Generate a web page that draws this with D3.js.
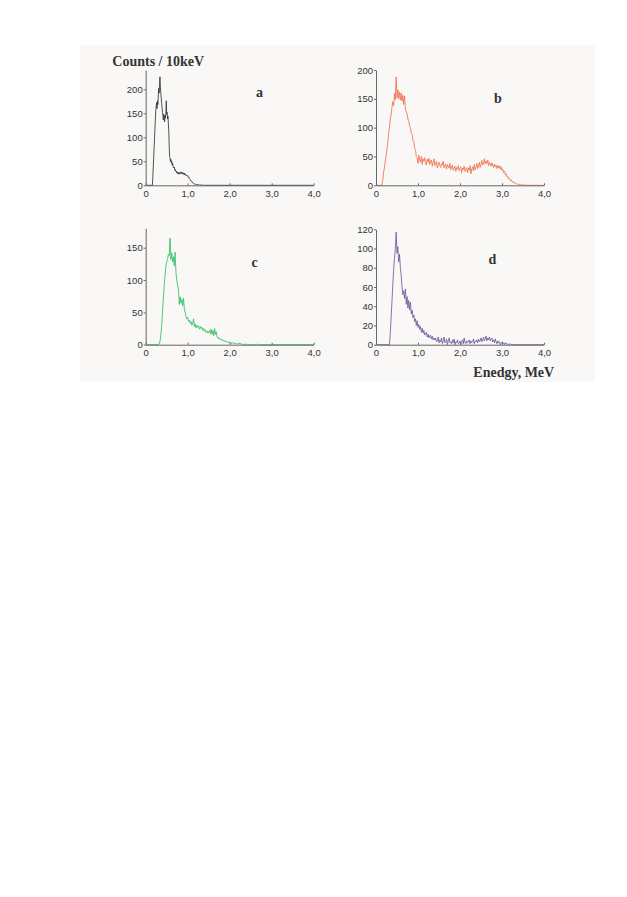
<!DOCTYPE html>
<html>
<head>
<meta charset="utf-8">
<script src="https://cdn.jsdelivr.net/npm/d3@7"></script>
<style>
  html, body { margin: 0; padding: 0; background: #ffffff; }
  svg { display: block; }
</style>
</head>
<body>
<div id="chart"></div>
<script>
// ---- Data (counts per 10 keV bin) ----
const xTickValues = [0, 1, 2, 3, 4];
const xTickLabels = ["0", "1,0", "2,0", "3,0", "4,0"];

const panelLetters = ["a", "b", "c", "d"];
const yMaxima = [240, 200, 180, 120];
const yTicksA = [0, 50, 100, 150, 200];
const yTicksB = [0, 50, 100, 150, 200];
const yTicksC = [0, 50, 100, 150];
const yTicksD = [0, 20, 40, 60, 80, 100, 120];

// energy of first listed bin (MeV) and bin spacing (MeV)
const startA = 0.16, stepA = 0.01;
const countsA = [0,18,38,58,78,98,118,138,155,165,172,160,176,168,188,202,192,214,226,206,
  192,182,170,162,152,146,136,148,138,132,146,140,150,176,148,152,138,144,128,112,
  80,60,56,50,54,47,50,42,46,40,37,36,38,32,31,33,28,29,26,28,
  24,27,25,23,26,24,27,25,28,26,24,27,25,23,26,24,22,25,23,21,
  22,20,21,19,20,18,16,17,14,13,12,10,10,8,7,7,5,5,4,3,
  3,2,3,2,2,1,2,1,1,2,1,1,0,1,1,0,1,0,0,1,0];

const startB = 0.14, stepB = 0.02;
const countsB = [0,8,22,30,42,50,62,75,90,100,115,122,135,145,138,160,148,188,152,166,
  150,162,148,160,146,156,140,155,132,128,124,115,112,102,100,90,88,78,76,64,
  62,50,48,
  38,52,44,40,50,36,46,42,48,38,35,45,40,47,36,42,44,33,40,46,
  34,38,42,30,36,40,34,31,38,35,42,30,34,37,28,36,33,30,38,27,
  32,35,26,30,33,24,31,28,34,25,29,32,22,30,27,33,24,28,31,22,
  30,26,34,20,28,32,25,36,27,31,38,29,33,40,31,36,43,35,39,46,
  37,42,38,44,34,40,37,33,39,35,31,37,32,35,29,
  34,30,34,28,32,26,28,22,24,18,20,14,15,11,12,8,9,6,7,4,
  5,3,3,2,2,1,2,1,1,0,1,0,1,0];

const startC = 0.30, stepC = 0.02;
const countsC = [0,1,5,15,30,50,70,90,108,122,128,132,140,138,165,132,142,128,136,122,
  143,112,100,92,84,62,74,64,70,60,72,55,50,44,40,42,36,38,33,36,
  30,34,40,28,32,26,30,27,29,24,28,25,27,22,25,21,23,19,21,18,
  20,22,17,24,16,22,14,25,16,20,12,10,11,8,9,7,8,6,7,5,
  6,4,5,3,4,3,4,2,3,2,3,1,2,2,1,2,1,3,1,1,
  0,1,0,1,0,1,0,0,0,0,0,0,0,0,0,0,0,0,1,0];

const startD = 0.32, stepD = 0.02;
const countsD = [0,12,28,45,62,78,90,100,117,95,102,86,94,80,72,60,52,56,48,58,
  42,50,38,46,36,44,32,36,
  28,31,24,27,20,25,18,21,16,19,13,17,12,15,10,11,13,8,11,7,9,10,6,9,5,7,
  5,7,3,4,8,2,5,3,7,1,4,8,2,3,6,0,4,7,2,3,
  1,5,2,6,0,3,2,5,1,2,4,0,3,5,1,7,2,1,4,2,
  3,5,1,4,2,3,6,1,4,3,5,2,6,3,4,7,3,5,8,4,
  6,9,4,7,5,8,4,6,7,3,5,2,6,3,1,4,2,3,0,2,
  3,1,2,0,2,1,1,0,1,0,1,0,0];

const starts = [startA, startB, startC, startD];
const steps = [stepA, stepB, stepC, stepD];
const countsAll = [countsA, countsB, countsC, countsD];
const yTicksAll = [yTicksA, yTicksB, yTicksC, yTicksD];
const colors = ["#333333", "#f0714f", "#33be66", "#6e5c9e"];

// ---- Layout ----
const W = 627, H = 897;
const panels = [
  { x0: 145.7, x1: 313.7, yb: 185.3, yt: 70.1, lx: 259.5, ly: 97 },
  { x0: 376.0, x1: 544.0, yb: 185.3, yt: 70.0, lx: 498, ly: 102.5 },
  { x0: 145.7, x1: 313.7, yb: 344.7, yt: 228.3, lx: 254.5, ly: 267 },
  { x0: 376.0, x1: 544.0, yb: 344.7, yt: 229.3, lx: 492.5, ly: 264 }
];

const svg = d3.select("#chart").append("svg")
  .attr("width", W).attr("height", H);

svg.append("rect")
  .attr("x", 80).attr("y", 45).attr("width", 515).attr("height", 337)
  .attr("fill", "#f9f8f6");

const tickFont = "'Liberation Sans', Arial, sans-serif";
const titleFont = "'Liberation Serif', 'Times New Roman', serif";

panels.forEach((p, i) => {
  const x = d3.scaleLinear().domain([0, 4]).range([p.x0, p.x1]);
  const y = d3.scaleLinear().domain([0, yMaxima[i]]).range([p.yb, p.yt]);

  // series: empty bins before / after listed range sit on zero
  const pts = [[0, 0]];
  countsAll[i].forEach((c, k) => pts.push([starts[i] + k * steps[i], c]));
  pts.push([4, 0]);

  const line = d3.line().x(d => x(d[0])).y(d => y(d[1]));
  svg.append("path")
    .datum(pts)
    .attr("d", line)
    .attr("fill", "none")
    .attr("stroke", colors[i])
    .attr("stroke-width", 0.85)
    .attr("stroke-linejoin", "round");

  const xAxis = d3.axisBottom(x)
    .tickValues(xTickValues)
    .tickFormat((d, k) => xTickLabels[k])
    .tickSizeInner(-2).tickSizeOuter(0).tickPadding(5);
  const gx = svg.append("g").attr("transform", `translate(0,${p.yb})`).call(xAxis);

  const yAxis = d3.axisLeft(y)
    .tickValues(yTicksAll[i])
    .tickFormat(d3.format("d"))
    .tickSizeInner(2).tickSizeOuter(0).tickPadding(1);
  const gy = svg.append("g").attr("transform", `translate(${p.x0},0)`).call(yAxis);

  [gx, gy].forEach(g => {
    g.select(".domain").attr("stroke", "#666").attr("stroke-width", 1);
    g.selectAll(".tick line").attr("stroke", "#666");
    g.selectAll(".tick text")
      .attr("fill", "#333")
      .style("font-family", tickFont)
      .style("font-size", "9.5px");
  });

  svg.append("text")
    .attr("x", p.lx).attr("y", p.ly)
    .attr("text-anchor", "middle")
    .style("font-family", titleFont)
    .style("font-weight", "bold")
    .style("font-size", "14px")
    .attr("fill", "#333")
    .text(panelLetters[i]);
});

svg.append("text")
  .attr("x", 112.3).attr("y", 65.5)
  .style("font-family", titleFont)
  .style("font-weight", "bold")
  .style("font-size", "14px")
  .attr("fill", "#333")
  .text("Counts / 10keV");

svg.append("text")
  .attr("x", 473.3).attr("y", 376.5)
  .style("font-family", titleFont)
  .style("font-weight", "bold")
  .style("font-size", "14px")
  .attr("fill", "#333")
  .text("Enedgy, MeV");
</script>
</body>
</html>
